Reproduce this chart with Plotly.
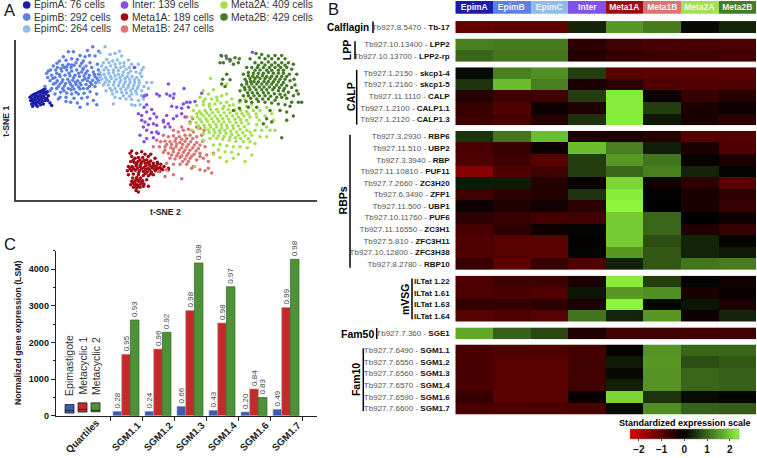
import plotly.graph_objects as go

W, H = 757, 458
FONT = "Liberation Sans"

# ---- panel A: t-SNE points
epimA = [(90,295),(95,290),(100,287),(105,285),(110,283),(115,280),(120,278),(125,275),(130,272),(135,270),(128,282),(120,287),(112,292),(104,296),(96,300),(92,305),(98,308),(106,303),(114,298),(122,293),(130,290),(138,285),(145,290),(140,298),(132,296),(125,300),(117,304),(110,310),(102,313),(95,315),(98,322),(108,318),(118,312),(126,308),(135,305),(143,305),(150,312),(155,320),(130,315),(122,318),(112,322),(135,280),(142,278),(100,302),(108,290)]
epimB = [(205,157),(220,157),(262,153),(278,142),(296,155),(240,168),(255,172),(190,172),(178,185),(198,183),(215,178),(232,180),(250,185),(268,168),(285,170),(270,190),(160,200),(145,215),(172,205),(188,198),(205,195),(222,198),(240,200),(258,200),(275,205),(292,195),(140,222),(155,228),(170,222),(185,215),(200,212),(215,215),(230,212),(245,218),(262,215),(280,218),(295,212),(165,235),(180,232),(195,228),(210,230),(225,228),(238,232),(252,230),(268,228),(285,232),(300,228),(150,245),(172,245),(188,242),(203,240),(218,243),(233,245),(248,243),(262,245),(278,243),(295,245),(135,262),(160,255),(180,255),(197,253),(212,256),(228,256),(243,258),(258,256),(275,256),(150,275),(170,268),(188,268),(205,268),(222,270),(240,270),(262,268),(285,262),(165,285),(182,280),(200,282),(215,285),(235,285),(252,283),(270,278),(180,295),(198,295),(222,298),(245,298),(262,295),(290,285),(240,325),(262,315),(290,318),(212,310),(232,312),(198,308),(280,305),(155,268),(175,300),
         (152,212),(167,212),(178,226),(193,205),(207,222),(221,236),(236,222),(250,207),(266,236),(283,225),(291,238),(158,238),(186,249),(208,249),(226,250),(240,252),(255,238),(271,250),(287,251),(175,262),(193,261),(217,262),(235,264),(250,268),(268,262),(143,235),(200,202),(213,205),(228,190),(245,192),(183,208),(213,272),(228,280),(192,275),(249,210),(215,197),(257,222),(171,192),(296,225),(167,252)]
epimC = [(315,142),(300,160),(330,165),(345,162),(358,155),(365,170),(320,180),(338,185),(352,182),(372,190),(385,182),(395,195),(405,205),(415,195),(305,200),(318,205),(332,200),(348,205),(362,205),(378,210),(392,215),(408,218),(425,212),(430,205),(300,220),(312,225),(326,222),(340,220),(355,225),(368,228),(382,232),(396,232),(410,235),(425,232),(440,250),(455,250),(305,240),(320,242),(334,238),(348,240),(362,245),(376,248),(390,250),(404,250),(418,252),(432,262),(445,268),(310,258),(325,258),(340,258),(355,260),(370,262),(384,265),(398,268),(412,268),(425,275),(318,275),(335,275),(350,278),(365,280),(380,282),(395,285),(410,285),(425,290),(435,288),(345,295),(360,298),(378,300),(395,302),(415,305),(430,300),(405,320),(395,318),(420,318),(340,315),
         (312,212),(325,213),(340,212),(355,214),(370,218),(385,222),(300,232),(316,234),(331,231),(345,230),(360,235),(375,238),(389,241),(403,242),(417,243),(298,250),(315,250),(328,248),(343,249),(358,252),(372,255),(386,258),(401,259),(415,261),(330,268),(345,268),(362,270),(377,272),(392,275),(407,277),(327,190),(345,195),(360,192),(310,190),(372,200),(388,205),(420,222),(338,285),(370,290),(388,292)]
inter = [(403,205),(505,255),(552,268),(440,288),(470,285),(478,290),(500,285),(510,290),(522,285),(520,297),(605,283),(432,292),(440,318),(432,325),(415,345),(425,350),(440,340),(455,332),(462,345),(470,355),(515,322),(530,325),(545,328),(560,310),(570,310),(585,308),(550,315),(565,325),(425,365),(435,370),(450,360),(445,378),(430,385),(460,375),(470,380),(490,370),(505,375),(520,360),(530,352),(545,345),(555,355),(510,385),(495,385),(440,395),(455,402),(470,400),(420,410),(440,420),(432,430),(460,418),(475,405),(490,365),(500,350),(757,158),(680,177),(665,170)]
meta1A = [(395,458),(410,465),(425,460),(435,468),(445,475),(395,475),(405,480),(415,478),(428,478),(440,485),(452,488),(465,480),(392,490),(402,492),(414,490),(425,492),(436,495),(448,498),(460,495),(472,492),(482,498),(385,505),(396,505),(408,503),(420,505),(432,508),(444,510),(456,508),(468,505),(480,508),(492,505),(505,510),(382,518),(394,518),(406,516),(418,518),(430,520),(442,522),(454,522),(466,518),(478,520),(488,515),(400,528),(415,530),(430,532),(445,533),(460,530),(398,540),(410,538),(422,540),(395,550),(405,548),(415,550),(428,548),(440,545),(392,560),(402,558),(412,560),(422,558),(432,558),(400,568),(410,570),(420,568),(430,565),(408,578),(415,582),(445,565),(385,530),(505,515),(390,465),(452,468),(474,510),
          (410,500),(422,498),(438,502),(450,503),(462,512),(400,511),(412,510),(425,512),(437,515),(449,515),(460,502),(472,498),(390,512),(420,485),(432,487),(445,492),(400,485),(408,495),(416,524),(436,526),(452,528),(470,512),(484,512),(405,555),(418,545),(410,544),(398,553),(425,553),(415,565),(405,563)]
meta1B = [(560,355),(570,370),(578,360),(590,385),(545,385),(520,395),(535,400),(550,395),(565,392),(580,400),(600,390),(612,395),(490,410),(505,415),(520,412),(538,415),(555,410),(570,410),(590,415),(605,410),(470,425),(482,430),(495,428),(510,430),(525,428),(540,432),(555,428),(572,430),(590,432),(608,428),(460,445),(478,445),(495,445),(512,448),(528,445),(545,448),(560,446),(578,448),(595,450),(615,445),(490,462),(505,465),(520,460),(535,465),(550,462),(565,465),(582,468),(600,465),(620,470),(640,465),(510,480),(525,482),(540,478),(555,482),(570,480),(590,485),(610,480),(625,490),(500,495),(520,498),(540,498),(560,498),(575,510),(600,515),(615,518),(635,525),(495,535),(520,530),(545,542),(580,505),(625,510),(475,520),(500,515),
          (515,438),(530,437),(548,438),(565,438),(583,440),(600,440),(500,438),(520,452),(538,455),(555,455),(570,456),(588,458),(530,472),(545,472),(560,472),(575,473),(495,455),(515,470),(600,475),(548,490),(565,490),(528,420),(545,422),(560,420),(578,420)]
meta2A = [(632,238),(680,255),(610,275),(640,272),(625,285),(600,295),(615,300),(635,300),(650,295),(665,290),(680,285),(695,300),(590,320),(610,318),(628,315),(645,315),(662,312),(680,310),(700,318),(718,310),(740,322),(755,318),(580,335),(598,338),(615,335),(632,332),(650,332),(668,330),(685,332),(705,335),(722,335),(740,338),(760,335),(780,335),(800,325),(575,355),(592,355),(610,352),(628,350),(645,352),(662,350),(680,352),(698,352),(715,355),(732,352),(750,355),(770,355),(795,352),(815,345),(570,375),(588,372),(605,370),(622,368),(640,370),(656,368),(672,370),(690,370),(708,372),(725,372),(745,375),(770,378),(790,375),(820,365),(575,395),(595,390),(615,388),(632,385),(650,385),(665,388),(682,388),(700,390),(720,392),(740,395),(765,395),(785,395),(810,395),(825,395),(610,405),(628,402),(645,402),(660,402),(678,405),(695,408),(715,410),(735,412),(755,410),(780,415),(800,415),(610,425),(630,420),(650,420),(668,422),(688,425),(708,428),(730,430),(750,430),(640,440),(660,438),(680,442),(700,445),(720,445),(742,448),(765,435),(655,455),(675,460),(695,462),(715,468),(640,468),(660,478),(680,490),(735,490),(700,480),(585,505),(755,470),(628,322),(735,300),
          (603,345),(620,343),(638,342),(655,340),(672,342),(690,342),(710,345),(726,344),(745,346),(600,362),(618,360),(635,360),(652,360),(668,360),(685,362),(705,362),(722,363),(740,365),(596,381),(612,380),(628,378),(648,378),(664,378),(680,380),(698,381),(715,382),(733,384),(625,394),(641,393),(658,395),(674,396),(692,398),(710,400),(728,402),(750,400),(640,412),(655,412),(672,414),(690,416),(706,418),(722,420),(745,420),(590,345),(652,305),(672,322),(610,308),(688,320),(768,345),(778,365),(800,385)]
meta2B = [(663,168),(678,170),(660,190),(670,190),(690,180),(705,175),(718,178),(715,190),(700,195),(690,185),(768,162),(785,165),(805,170),(825,168),(845,168),(855,178),(778,175),(795,178),(815,178),(835,178),(750,178),(765,190),(785,190),(805,188),(825,190),(845,190),(865,190),(880,195),(740,205),(755,205),(772,205),(790,205),(808,205),(825,205),(842,205),(860,205),(875,210),(890,225),(730,225),(745,220),(760,222),(775,222),(790,222),(805,220),(820,222),(835,222),(850,222),(868,225),(882,240),(668,240),(690,242),(680,225),(735,240),(750,238),(765,238),(780,238),(795,238),(810,238),(825,240),(840,240),(855,240),(870,245),(885,258),(895,285),(725,258),(740,255),(755,255),(770,255),(785,255),(800,255),(815,255),(830,258),(845,258),(860,260),(875,265),(890,275),(720,275),(735,272),(750,272),(768,272),(785,272),(800,272),(818,272),(835,275),(850,275),(865,280),(880,290),(905,310),(730,290),(745,290),(762,290),(778,290),(795,290),(812,292),(830,295),(845,295),(860,298),(875,310),(895,310),(720,305),(738,308),(755,310),(775,308),(795,310),(815,312),(835,315),(855,318),(870,322),(700,335),(718,328),(745,325),(770,325),(810,335),(840,335),(860,340),(880,352),(800,360),(815,370),(845,418),(675,262),(665,255),(790,375),(860,365),
          (745,230),(758,231),(772,232),(787,230),(800,232),(815,231),(830,232),(845,232),(860,232),(740,248),(752,247),(762,247),(775,248),(792,247),(805,247),(820,248),(835,249),(850,250),(733,265),(747,264),(762,264),(778,264),(792,264),(808,264),(823,265),(838,266),(853,268),(743,281),(757,281),(772,282),(790,281),(805,282),(823,284),(840,286),(855,288),(780,212),(800,213),(815,213),(835,213),(850,213),(765,213),(795,197),(815,197),(835,198),(855,198),(775,198),(752,298),(770,300),(788,300),(805,300),(825,304)]

cluster_names = ["EpimA", "EpimB", "EpimC", "Inter", "Meta1A", "Meta1B", "Meta2A", "Meta2B"]
cluster_counts = [76, 292, 264, 139, 189, 247, 409, 429]
cluster_colors = ["#1c1ca8", "#5c7fe4", "#8fbde9", "#8252e6", "#a00a12", "#dc7474", "#a3e24e", "#447c24"]
cluster_points = [epimA, epimB, epimC, inter, meta1A, meta1B, meta2A, meta2B]

# ---- panel B: standardized expression, one list per block
calflagin_labels = [("Tb927.8.5470", "Tb-17")]
calflagin_z = [[-1.1, -1.05, -1.05, 0.35, 1.5, 1.2, 0.1, 0.35]]

lpp_labels = [("Tb927.10.13400", "LPP2"), ("Tb927.10.13700", "LPP2-rp")]
lpp_z = [[1.25, 1.2, 1.2, -0.5, -0.7, -0.8, -0.8, -0.85],
         [1.0, 1.15, 1.15, -0.4, -0.6, -0.7, -0.7, -0.75]]

calp_labels = [("Tb927.1.2150", "skcp1-4"), ("Tb927.1.2160", "skcp1-5"), ("Tb927.11.1110", "CALP"),
               ("Tb927.1.2100", "CALP1.1"), ("Tb927.1.2120", "CALP1.3")]
calp_z = [[0.12, 1.25, 1.4, 0.6, -1.0, -1.0, -1.0, -1.0],
          [0.5, 1.85, 1.25, -0.3, -0.5, -0.9, -0.9, -0.85],
          [-0.4, -0.7, -0.7, 0.6, 2.3, -0.1, -0.6, -0.4],
          [-0.6, -0.9, -0.15, -0.35, 2.3, 0.6, -0.3, -0.15],
          [-0.7, -0.8, -0.4, 0.5, 2.3, 0.25, -0.3, -0.5]]

rbp_labels = [("Tb927.3.2930", "RBP6"), ("Tb927.11.510", "UBP2"), ("Tb927.3.3940", "RBP"),
              ("Tb927.11.10810", "PUF11"), ("Tb927.7.2660", "ZC3H20"), ("Tb927.6.3490", "ZFP1"),
              ("Tb927.11.500", "UBP1"), ("Tb927.10.11760", "PUF6"), ("Tb927.11.16550", "ZC3H1"),
              ("Tb927.5.810", "ZFC3H11"), ("Tb927.10.12800", "ZFC3H38"), ("Tb927.8.2780", "RBP10")]
rbp_z = [[0.5, 1.15, 1.85, -0.3, -0.3, -0.4, -0.95, -0.95],
         [-0.8, -0.6, -0.15, 1.85, 1.25, 0.3, -0.3, -0.9],
         [-0.85, -0.7, -1.0, 0.6, 1.5, 1.15, -0.1, -0.3],
         [-1.5, -0.9, -0.7, 0.6, 1.0, 1.25, 0.35, 0.05],
         [0.25, 0.25, -0.4, -0.1, 2.1, -0.2, -0.5, -1.0],
         [-0.7, -0.5, -0.4, 0.5, 2.3, 0.02, -0.3, -0.5],
         [-0.15, -0.35, -0.2, -0.5, 2.4, 0.0, -0.3, -0.6],
         [-0.5, -0.6, -0.75, -0.7, 2.0, 1.0, 0.0, -0.15],
         [-0.8, -0.5, -0.15, 0.05, 2.0, 1.0, -0.35, -0.6],
         [-0.9, -0.95, -0.95, -0.05, 2.0, 0.75, 0.35, 0.05],
         [-0.9, -0.95, -1.0, 0.05, 1.5, 0.85, 0.35, 0.25],
         [-0.6, -1.05, -0.6, -0.9, 0.3, 0.85, 1.15, 1.2]]

mvsg_labels = [(None, "ILTat 1.22"), (None, "ILTat 1.61"), (None, "ILTat 1.63"), (None, "ILTat 1.64")]
mvsg_z = [[-0.85, -0.7, -0.7, -0.3, 2.3, 0.6, 0.03, -0.2],
          [-0.85, -0.8, -0.9, 0.2, 1.5, 1.4, -0.3, -0.1],
          [-0.55, -0.6, -0.5, -0.3, 2.4, 0.08, 0.2, -0.3],
          [-0.95, -0.85, -0.95, 1.15, 0.35, 1.5, -0.15, 0.35]]

fam50_labels = [("Tb927.7.360", "SGE1")]
fam50_z = [[1.65, 0.95, 0.7, -0.35, -0.7, -0.7, -0.75, -0.7]]

fam10_labels = [("Tb927.7.6490", "SGM1.1"), ("Tb927.7.6550", "SGM1.2"), ("Tb927.7.6560", "SGM1.3"),
                ("Tb927.7.6570", "SGM1.4"), ("Tb927.7.6590", "SGM1.6"), ("Tb927.7.6600", "SGM1.7")]
fam10_z = [[-0.8, -0.9, -0.9, -0.75, -0.05, 1.45, 1.0, 1.0],
           [-0.8, -0.95, -0.95, -0.7, 0.25, 1.5, 0.75, 0.85],
           [-0.8, -0.95, -0.95, -0.7, 0.1, 1.45, 1.0, 0.95],
           [-0.8, -0.95, -0.95, -0.7, 0.3, 1.45, 1.0, 0.95],
           [-0.6, -1.0, -0.95, -0.1, 2.1, 0.5, 0.12, 0.05],
           [-0.8, -0.85, -0.85, -0.8, 0.12, 1.4, 0.95, 0.9]]

# ---- panel C: bars
sgm_names = ["SGM1.1", "SGM1.2", "SGM1.3", "SGM1.4", "SGM1.6", "SGM1.7"]
epi_vals = [117, 117, 252, 144, 99, 171]
meta1_vals = [1676, 1820, 2874, 2532, 730, 2955]
meta2_vals = [2613, 2279, 4171, 3523, 495, 4270]
epi_labels = ["0.28", "0.24", "0.66", "0.43", "0.20", "0.49"]
meta1_labels = ["0.95", "0.96", "0.98", "0.98", "0.84", "0.99"]
meta2_labels = ["0.93", "0.92", "0.98", "0.97", "0.83", "0.98"]
quartile_q1 = [72, 99, 108]
quartile_med = [144, 171, 144]
quartile_q3 = [306, 351, 351]
bar_colors = ["#3f5aae", "#c32a2a", "#4f9136"]
bar_edges = ["#7f8fc8", "#d88a8a", "#2f6a20"]
series_names = ["Epimastigote", "Metacyclic 1", "Metacyclic 2"]


def px_x(x):
    return x / W


def px_y(y):
    return 1 - y / H


fig = go.Figure()
layout = {}
axis_no = [1]


def next_axes(x0, x1, y0, y1, xopts, yopts):
    # axes placed by pixel box on the page
    n = axis_no[0]
    axis_no[0] += 1
    xname, yname = "x" + str(n), "y" + str(n)
    xa = dict(domain=[px_x(x0), px_x(x1)], anchor=yname, showgrid=False, zeroline=False)
    ya = dict(domain=[px_y(y1), px_y(y0)], anchor=xname, showgrid=False, zeroline=False)
    xa.update(xopts)
    ya.update(yopts)
    layout["xaxis" + str(n)] = xa
    layout["yaxis" + str(n)] = ya
    return xname, yname


annotations = []
shapes = []


def add_text(x, y, text, size, color="#000", xanchor="center", angle=0):
    annotations.append(dict(x=px_x(x), y=px_y(y), xref="paper", yref="paper", text=text, showarrow=False,
                            xanchor=xanchor, yanchor="middle", textangle=angle,
                            font=dict(family=FONT, size=size, color=color)))


def add_vbar(x, y0, y1):
    shapes.append(dict(type="line", xref="paper", yref="paper", x0=px_x(x), x1=px_x(x),
                       y0=px_y(y0), y1=px_y(y1), line=dict(color="#000", width=1.5)))


# ---- panel A
xa, ya = next_axes(15.7, 316.7, 40.7, 202,
                   dict(range=[47, 950], showline=True, linecolor="#444", linewidth=1.5, showticklabels=False, ticks=""),
                   dict(range=[606, 122], showline=True, linecolor="#444", linewidth=1.5, showticklabels=False, ticks=""))
for name, pts, col in zip(cluster_names, cluster_points, cluster_colors):
    fig.add_trace(go.Scatter(x=[p[0] for p in pts], y=[p[1] for p in pts], mode="markers", name=name,
                             marker=dict(color=col, size=3.5), xaxis=xa, yaxis=ya, showlegend=False))

legend_pos = [(26.7, 5), (26.7, 17.3), (26.7, 29.3), (124.5, 5), (124.5, 17.3), (124.5, 29.3), (224, 5), (224, 17.3)]
for name, count, col, (lx, ly) in zip(cluster_names, cluster_counts, cluster_colors, legend_pos):
    shapes.append(dict(type="circle", xref="paper", yref="paper", x0=px_x(lx - 3.8), x1=px_x(lx + 3.8),
                       y0=px_y(ly + 3.8), y1=px_y(ly - 3.8), fillcolor=col, line=dict(width=0)))
    add_text(lx + 5, ly, name + ": " + str(count) + " cells", 10.3, "#333", "left")

add_text(165.5, 214.5, "<b>t-SNE 2</b>", 8.7, "#222")
add_text(6, 123, "<b>t-SNE 1</b>", 8.7, "#222", angle=-90)
add_text(2, 10.5, "A", 16.5, "#111", "left")
add_text(326, 9, "B", 16.5, "#111", "left")
add_text(2, 247, "C", 16.5, "#111", "left")

# ---- panel B
HEAT_X0, HEAT_X1 = 455.3, 756
xa, ya = next_axes(HEAT_X0, HEAT_X1, 1, 14,
                   dict(showticklabels=False, ticks=""), dict(showticklabels=False, ticks=""))
fig.add_trace(go.Heatmap(z=[list(range(8))], x=cluster_names, y=["header"], text=[cluster_names],
                         texttemplate="<b>%{text}</b>", textfont=dict(family=FONT, size=8.5, color="#f4f4f4"),
                         colorscale=[[i / 7, c] for i, c in enumerate(cluster_colors)],
                         showscale=False, xaxis=xa, yaxis=ya, hoverinfo="skip"))

blocks = [
    (calflagin_labels, calflagin_z, 21.3, 33.3),
    (lpp_labels, lpp_z, 39, 62.7),
    (calp_labels, calp_z, 68, 126.7),
    (rbp_labels, rbp_z, 132.3, 272.7),
    (mvsg_labels, mvsg_z, 278.7, 325.3),
    (fam50_labels, fam50_z, 331, 343),
    (fam10_labels, fam10_z, 348.3, 419),
]
for labels, z, y0, y1 in blocks:
    ticktext = []
    for gene, short in labels:
        if gene:
            ticktext.append('<span style="color:#555">' + gene + " - </span><b>" + short + "</b>")
        else:
            ticktext.append("<b>" + short + "</b>")
    rows = list(range(len(labels)))
    xa, ya = next_axes(HEAT_X0, HEAT_X1, y0, y1,
                       dict(showticklabels=False, ticks=""),
                       dict(autorange="reversed", tickvals=rows, ticktext=ticktext, ticks="outside", ticklen=3,
                            tickcolor="rgba(0,0,0,0)", tickfont=dict(family=FONT, size=8, color="#111")))
    fig.add_trace(go.Heatmap(z=z, x=cluster_names, y=rows, coloraxis="coloraxis", xaxis=xa, yaxis=ya))

add_text(348, 27.5, "<b>Calflagin</b>", 10, "#000")
add_vbar(373, 21.7, 33.3)
add_text(347, 50.7, "<b>LPP</b>", 10.5, "#000", angle=-90)
add_vbar(355, 41.7, 60)
add_text(350.3, 97.7, "<b>CALP</b>", 10.5, "#000", angle=-90)
add_vbar(356.7, 70.7, 126)
add_text(343.3, 202.3, "<b>RBPs</b>", 10.5, "#000", angle=-90)
add_vbar(350, 136.3, 270.7)
add_text(405, 302.3, "<b>mVSG</b>", 10.5, "#000", angle=-90)
add_vbar(412, 281.7, 322.7)
add_text(357, 337.5, "<b>Fam50</b>", 10.5, "#000")
add_vbar(376.7, 331.7, 342.7)
add_text(356, 384.3, "<b>Fam10</b>", 10.5, "#000", angle=-90)
add_vbar(363.3, 352.3, 415.7)
add_text(684.7, 427.7, "<b>Standardized expression scale</b>", 9, "#000")

# ---- panel C
xa, ya = next_axes(55.7, 316.7, 253.7, 420.3,
                   dict(range=[-2.198, 5.958], showline=True, linecolor="#222", linewidth=1,
                        tickvals=[-0.5, 0.5, 1.5, 2.5, 3.5, 4.5, 5.5], showticklabels=False,
                        ticks="outside", ticklen=4, tickcolor="#222"),
                   dict(range=[0, 4500], showline=True, linecolor="#222", linewidth=1, dtick=1000,
                        ticks="outside", ticklen=4, tickcolor="#222",
                        minor=dict(dtick=500, ticks="outside", ticklen=2, tickcolor="#222"),
                        tickfont=dict(family=FONT, size=9, color="#111"), tickprefix="<b>", ticksuffix="</b>"))
bar_w = 0.27
sgm_pos = list(range(len(sgm_names)))
for off, vals, txt, col, edge, name in zip([-bar_w, 0, bar_w], [epi_vals, meta1_vals, meta2_vals],
                                           [epi_labels, meta1_labels, meta2_labels],
                                           bar_colors, bar_edges, series_names):
    fig.add_trace(go.Bar(x=[p + off for p in sgm_pos], y=vals, width=bar_w, text=txt, textposition="outside",
                         textangle=-90, constraintext="none", textfont=dict(family=FONT, size=8, color="#444"),
                         cliponaxis=False, marker=dict(color=col, line=dict(color=edge, width=0.7)), name=name,
                         showlegend=False, xaxis=xa, yaxis=ya))

quartile_x = [-1.766, -1.36, -0.953]
for i in range(3):
    fig.add_trace(go.Box(x=[quartile_x[i]], q1=[quartile_q1[i]], median=[quartile_med[i]], q3=[quartile_q3[i]],
                         lowerfence=[quartile_q1[i]], upperfence=[quartile_q3[i]], width=0.28, whiskerwidth=0,
                         fillcolor=bar_colors[i], line=dict(color="#222", width=0.8), showlegend=False,
                         xaxis=xa, yaxis=ya))
    add_text(69 + 13.5 * i, 370, series_names[i], 10.5, "#333", angle=-90)

for name, x_data in zip(["Quartiles"] + sgm_names, [-1.375] + sgm_pos):
    annotations.append(dict(x=x_data, y=px_y(441), xref=xa, yref="paper", text="<b>" + name + "</b>",
                            showarrow=False, textangle=-45, xanchor="center", yanchor="middle",
                            font=dict(family=FONT, size=9.8, color="#222")))
add_text(18, 336.7, "<b>Normalized gene expression (LSM)</b>", 8.7, "#222", angle=-90)

fig.update_layout(
    width=W, height=H, margin=dict(l=0, r=0, t=0, b=0), paper_bgcolor="white", plot_bgcolor="white",
    showlegend=False, barmode="overlay", font=dict(family=FONT),
    annotations=annotations, shapes=shapes,
    coloraxis=dict(cmin=-2.4, cmax=2.4,
                   colorscale=[[0, "#d80000"], [0.5, "#000000"], [1, "#8cf53c"]],
                   colorbar=dict(orientation="h", lenmode="pixels", len=108.7, thicknessmode="pixels", thickness=10,
                                 x=px_x(684.3), xanchor="center", y=px_y(433.3), yanchor="top", xpad=0, ypad=0,
                                 tickvals=[-2, -1, 0, 1, 2], ticktext=["<b>\u22122</b>", "<b>\u22121</b>", "<b>0</b>", "<b>1</b>", "<b>2</b>"],
                                 ticks="outside", ticklen=2, outlinewidth=0.5, outlinecolor="#888",
                                 tickfont=dict(family=FONT, size=10, color="#111"))),
    **layout,
)

fig.write_html("out.html", config={"displayModeBar": False}, post_script="document.body.style.margin='0';")
